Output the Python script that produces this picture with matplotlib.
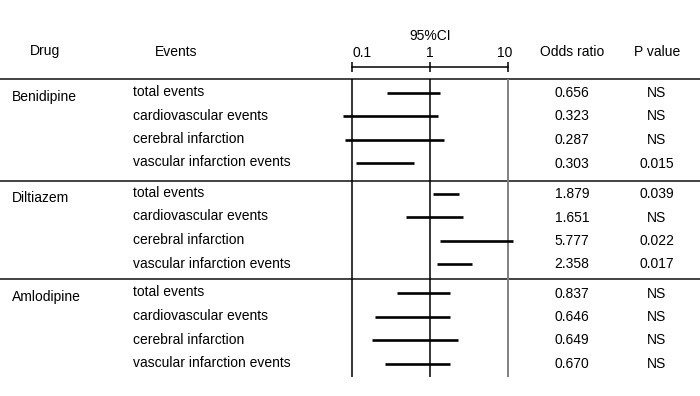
import matplotlib.pyplot as plt

plt.rcParams['font.family'] = ['Liberation Sans', 'DejaVu Sans']
plt.rcParams['font.size'] = 10

# Data
drugs = ['Benidipine', 'Diltiazem', 'Amlodipine']
events = ['total events', 'cardiovascular events', 'cerebral infarction', 'vascular infarction events']
odds_ratio = [0.656, 0.323, 0.287, 0.303, 1.879, 1.651, 5.777, 2.358, 0.837, 0.646, 0.649, 0.670]
ci_low = [0.275, 0.077, 0.081, 0.11, 1.09, 0.49, 1.34, 1.23, 0.37, 0.195, 0.18, 0.26]
ci_high = [1.34, 1.27, 1.48, 0.61, 2.35, 2.59, 11.6, 3.39, 1.80, 1.80, 2.29, 1.77]
p_values = ['NS', 'NS', 'NS', '0.015', '0.039', 'NS', '0.022', '0.017', 'NS', 'NS', 'NS', 'NS']
ci_ticks = [0.1, 1, 10]
tick_labels = ['0.1', '1', '10']

# Layout (pixels, y from top)
W, H = 700, 396
group_top = [92.5, 193.5, 293]
row_step = 23.5
row_y = [g + i * row_step for g in group_top for i in range(len(events))]
separators = [79.3, 181.3, 279.3]

fig = plt.figure(figsize=(W / 100, H / 100), dpi=100)

# Background axes for the table text and lines
bg = fig.add_axes([0, 0, 1, 1])
bg.set_xlim(0, W)
bg.set_ylim(H, 0)
bg.axis('off')

# Forest plot axes (log scale, 0.1..10)
x0, x1 = 352.3, 508.3
ax = fig.add_axes([x0 / W, 0, (x1 - x0) / W, 1])
ax.set_xscale('log')
ax.set_xlim(0.1, 10)
ax.set_ylim(H, 0)
ax.axis('off')

# Headers
bg.text(45, 51.5, 'Drug', ha='center', va='center')
bg.text(176, 51.5, 'Events', ha='center', va='center')
bg.text(572, 51.5, 'Odds ratio', ha='center', va='center')
bg.text(657, 51.5, 'P value', ha='center', va='center')
ax.text(1, 35.5, '95%CI', ha='center', va='center')

# CI axis at top
ax.plot([ci_ticks[0], ci_ticks[-1]], [66.7, 66.7], color='black', lw=1.1, clip_on=False)
ax.vlines(ci_ticks, 61.7, 71.7, color='black', lw=1.1, clip_on=False)
ax.text(ci_ticks[0], 53, tick_labels[0], ha='left', va='center')
ax.text(ci_ticks[1], 53, tick_labels[1], ha='center', va='center')
ax.text(ci_ticks[2] * 1.12, 53, tick_labels[2], ha='right', va='center')

# Separator lines
bg.hlines(separators, 0, W, color='#222222', lw=1.2)

# Reference vertical lines
ax.vlines([0.1, 1], separators[0], 377, color='black', lw=1.1, clip_on=False)
ax.vlines([10], separators[0], 377, color='#808080', lw=1.4, clip_on=False)

# Confidence intervals
ax.hlines(row_y, ci_low, ci_high, color='black', lw=1.9, clip_on=False)

# Table text
for g, drug in enumerate(drugs):
    bg.text(12, group_top[g] + 4.5, drug, ha='left', va='center')
for i, y in enumerate(row_y):
    bg.text(133, y - 0.5, events[i % len(events)], ha='left', va='center')
    bg.text(572, y + 0.5, '%.3f' % odds_ratio[i], ha='center', va='center')
    bg.text(657, y + 0.5, p_values[i], ha='center', va='center')

fig.savefig('out.png', dpi=100)
